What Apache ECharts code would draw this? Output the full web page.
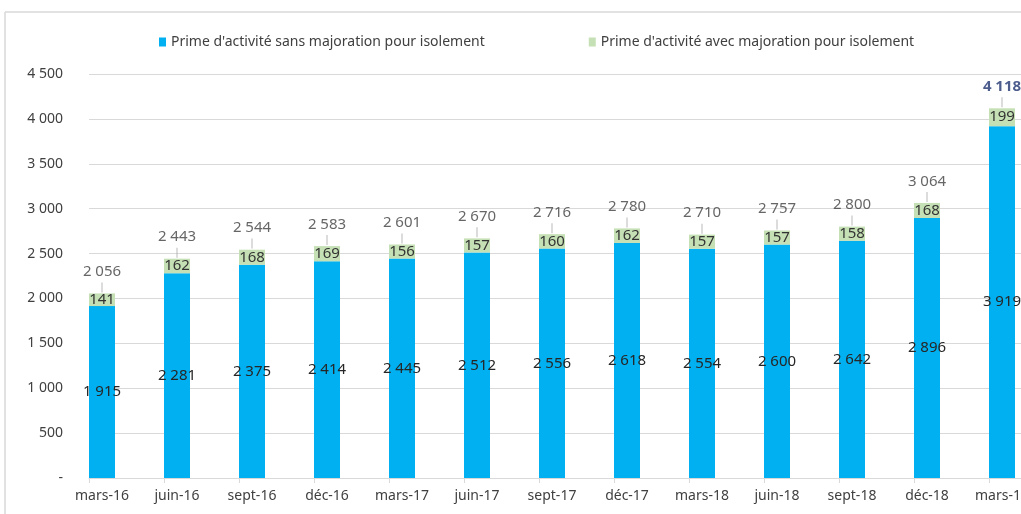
<!DOCTYPE html>
<html>
<head>
<meta charset="utf-8">
<script src="https://cdn.jsdelivr.net/npm/echarts@6/dist/echarts.min.js"></script>
<style>
  html, body { margin: 0; padding: 0; background: #fff; }
  #chart { width: 1021px; height: 514px; }
</style>
</head>
<body>
<div id="chart"></div>
<script>
// trimestres
const categories = ['mars-16', 'juin-16', 'sept-16', 'déc-16', 'mars-17', 'juin-17', 'sept-17',
  'déc-17', 'mars-18', 'juin-18', 'sept-18', 'déc-18', 'mars-19'];
// en milliers de foyers
const sansMajoration = [1915, 2281, 2375, 2414, 2445, 2512, 2556, 2618, 2554, 2600, 2642, 2896, 3919];
const avecMajoration = [141, 162, 168, 169, 156, 157, 160, 162, 157, 157, 158, 168, 199];
const totals = [2056, 2443, 2544, 2583, 2601, 2670, 2716, 2780, 2710, 2757, 2800, 3064, 4118];
const yTicks = [0, 500, 1000, 1500, 2000, 2500, 3000, 3500, 4000, 4500];

const FONT = '"Noto Sans", sans-serif';
const fmt = v => String(v).replace(/\B(?=(\d{3})+(?!\d))/g, ' ');

const chart = echarts.init(document.getElementById('chart'));

const totalData = totals.map((v, i) => {
  if (i === totals.length - 1) {
    return { value: v, label: { color: '#1f3470', fontWeight: 'bold' } };
  }
  return v;
});

chart.setOption({
  animation: false,
  textStyle: { fontFamily: FONT },
  graphic: [
    { type: 'line', shape: { x1: 5, y1: 12, x2: 1021, y2: 12 }, style: { stroke: '#d9d9d9', lineWidth: 1.5 } },
    { type: 'line', shape: { x1: 5, y1: 12, x2: 5, y2: 514 }, style: { stroke: '#d9d9d9', lineWidth: 1.5 } }
  ],
  legend: {
    data: ['Prime d\'activité sans majoration pour isolement', 'Prime d\'activité avec majoration pour isolement'],
    left: 154,
    top: 30,
    itemGap: 104,
    itemWidth: 7,
    itemHeight: 9,
    icon: 'rect',
    textStyle: { fontFamily: FONT, fontSize: 14, color: '#404040' }
  },
  grid: [
    // grille de fond (lignes horizontales + axe)
    { left: 89, right: 0, top: 74, bottom: 36, outerBoundsMode: 'none' },
    // barres (la dernière catégorie dépasse le bord droit)
    { left: 64.5, width: 975, top: 74, bottom: 36, outerBoundsMode: 'none' }
  ],
  xAxis: [
    {
      gridIndex: 0, type: 'value', min: 0, max: 932, interval: 75,
      axisLine: { show: true, lineStyle: { color: '#d9d9d9' } },
      axisTick: { show: true, length: 5, lineStyle: { color: '#d9d9d9' } },
      axisLabel: { show: false },
      splitLine: { show: false }
    },
    {
      gridIndex: 1, type: 'category', data: categories,
      axisLine: { show: false },
      axisTick: { show: false },
      axisLabel: { color: '#404040', fontSize: 14, margin: 11, fontFamily: FONT, interval: 0 }
    }
  ],
  yAxis: [
    {
      gridIndex: 0, type: 'value', min: 0, max: yTicks[yTicks.length - 1], interval: 500,
      axisLine: { show: false },
      axisTick: { show: false },
      axisLabel: {
        color: '#404040', fontSize: 14, margin: 26, fontFamily: FONT,
        formatter: v => (v === 0 ? '-' : fmt(v))
      },
      splitLine: { lineStyle: { color: '#d9d9d9', width: 1 } }
    },
    {
      gridIndex: 1, type: 'value', min: 0, max: yTicks[yTicks.length - 1], interval: 500,
      axisLine: { show: false }, axisTick: { show: false },
      axisLabel: { show: false }, splitLine: { show: false }
    }
  ],
  series: [
    {
      name: 'Prime d\'activité sans majoration pour isolement',
      type: 'bar', stack: 'tot', xAxisIndex: 1, yAxisIndex: 1,
      barWidth: 26,
      data: sansMajoration,
      itemStyle: { color: '#00b0f0' },
      label: {
        show: true, position: 'inside', color: '#262626', fontSize: 15, fontFamily: FONT,
        formatter: p => fmt(p.value)
      }
    },
    {
      name: 'Prime d\'activité avec majoration pour isolement',
      type: 'bar', stack: 'tot', xAxisIndex: 1, yAxisIndex: 1,
      barWidth: 26,
      data: avecMajoration,
      itemStyle: { color: '#c5e0b4' },
      label: {
        show: true, position: 'inside', color: '#333', fontSize: 15, fontFamily: FONT,
        formatter: p => fmt(p.value)
      }
    },
    {
      name: 'Total',
      type: 'scatter', xAxisIndex: 1, yAxisIndex: 1,
      data: totalData,
      symbol: 'rect',
      symbolSize: [1, 10],
      symbolOffset: [0, -6],
      itemStyle: { color: '#a6a6a6' },
      z: 5,
      label: {
        show: true, position: 'top', distance: 3, color: '#404040', fontSize: 15, fontFamily: FONT,
        formatter: p => fmt(p.value)
      }
    }
  ]
});
</script>
</body>
</html>
